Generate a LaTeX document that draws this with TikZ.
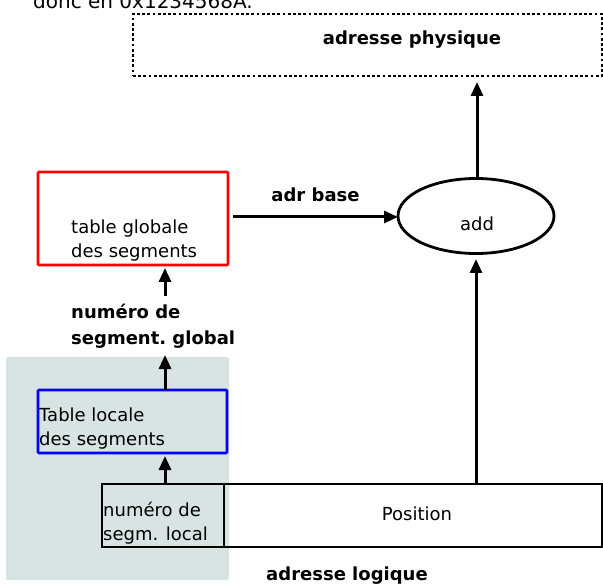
\documentclass[tikz,border=0pt]{standalone}
\usepackage{fontspec}
\setmainfont{DejaVu Sans}
\usetikzlibrary{arrows.meta,shapes.geometric}
\definecolor{bggray}{RGB}{216,227,227}
\tikzset{
  arr/.style={line width=3pt,-{Triangle[width=12pt,length=14pt]}},
  bx/.style={line width=2.8pt,inner sep=0pt},
  txt/.style={inner sep=0pt,font=\fontsize{18}{24}\selectfont},
  btxt/.style={inner sep=0pt,font=\fontsize{18}{26}\selectfont\bfseries},
}
\begin{document}
\begin{tikzpicture}[x=1pt,y=-1pt]
\useasboundingbox (0,0) rectangle (603,588);
\clip (0,0) rectangle (603,588);
% stray text at the top
\node[txt,font=\fontsize{20}{24}\selectfont,anchor=base west] (donc) at (33,9) {donc en 0x1234568A.};
% gray background
\fill[bggray,rounded corners=2pt] (6,357) rectangle (229,580);
% physical address box
\node[draw,bx,dash pattern=on 2.8pt off 2.4pt,minimum width=469pt,minimum height=62pt] (phys) at (367.5,45) {};
\node[btxt] (physlbl) at (412,40) {adresse physique};
% add ellipse
\node[draw,bx,ellipse,minimum width=156pt,minimum height=75pt] (add) at (476,216) {};
\node[txt] (addlbl) at (477,224) {add};
% global table
\node[draw=red,bx,rounded corners=1pt,minimum width=190pt,minimum height=93pt] (glob) at (133,218.5) {};
\node[txt,align=left,anchor=west] (globlbl) at (71,241) {table globale\\des segments};
% numero global label
\node[btxt,align=left,anchor=west] (numg) at (71,326) {numéro de\\segment.~global};
% local table
\node[draw=blue,bx,rounded corners=1pt,minimum width=189pt,minimum height=63pt] (loc) at (132.5,421.5) {};
\node[txt,align=left,anchor=west] (loclbl) at (39,429) {Table locale\\des segments};
% logical address
\node[draw,bx,minimum width=122pt,minimum height=63pt] (segl) at (163,515.5) {};
\node[draw,bx,minimum width=378pt,minimum height=63pt] (pos) at (413,515.5) {};
\node[txt,align=left,anchor=west] (segllbl) at (103,523) {numéro de\\segm. local};
\node[txt] (poslbl) at (417,514) {Position};
\node[btxt] (logl) at (347,576) {adresse logique};
% coordinates
\coordinate (a1) at (165,484);
\coordinate (a2) at (165,456);
\coordinate (b1) at (165,390);
\coordinate (b2) at (165,355);
\coordinate (c1) at (165,296);
\coordinate (c2) at (165,268);
\coordinate (d1) at (476,484);
\coordinate (d2) at (476,259);
\coordinate (e1) at (477,178);
\coordinate (e2) at (477,82);
\coordinate (f1) at (233,217);
\coordinate (f2) at (398,217);
% connectors
\draw[arr] (a1) -- (a2);
\draw[arr] (b1) -- (b2);
\draw[arr] (c1) -- (c2);
\draw[arr] (d1) -- (d2);
\draw[arr] (e1) -- (e2);
\draw[arr] (f1) -- node[btxt,above=14pt] (adrb) {adr base} (f2);
\end{tikzpicture}
\end{document}
